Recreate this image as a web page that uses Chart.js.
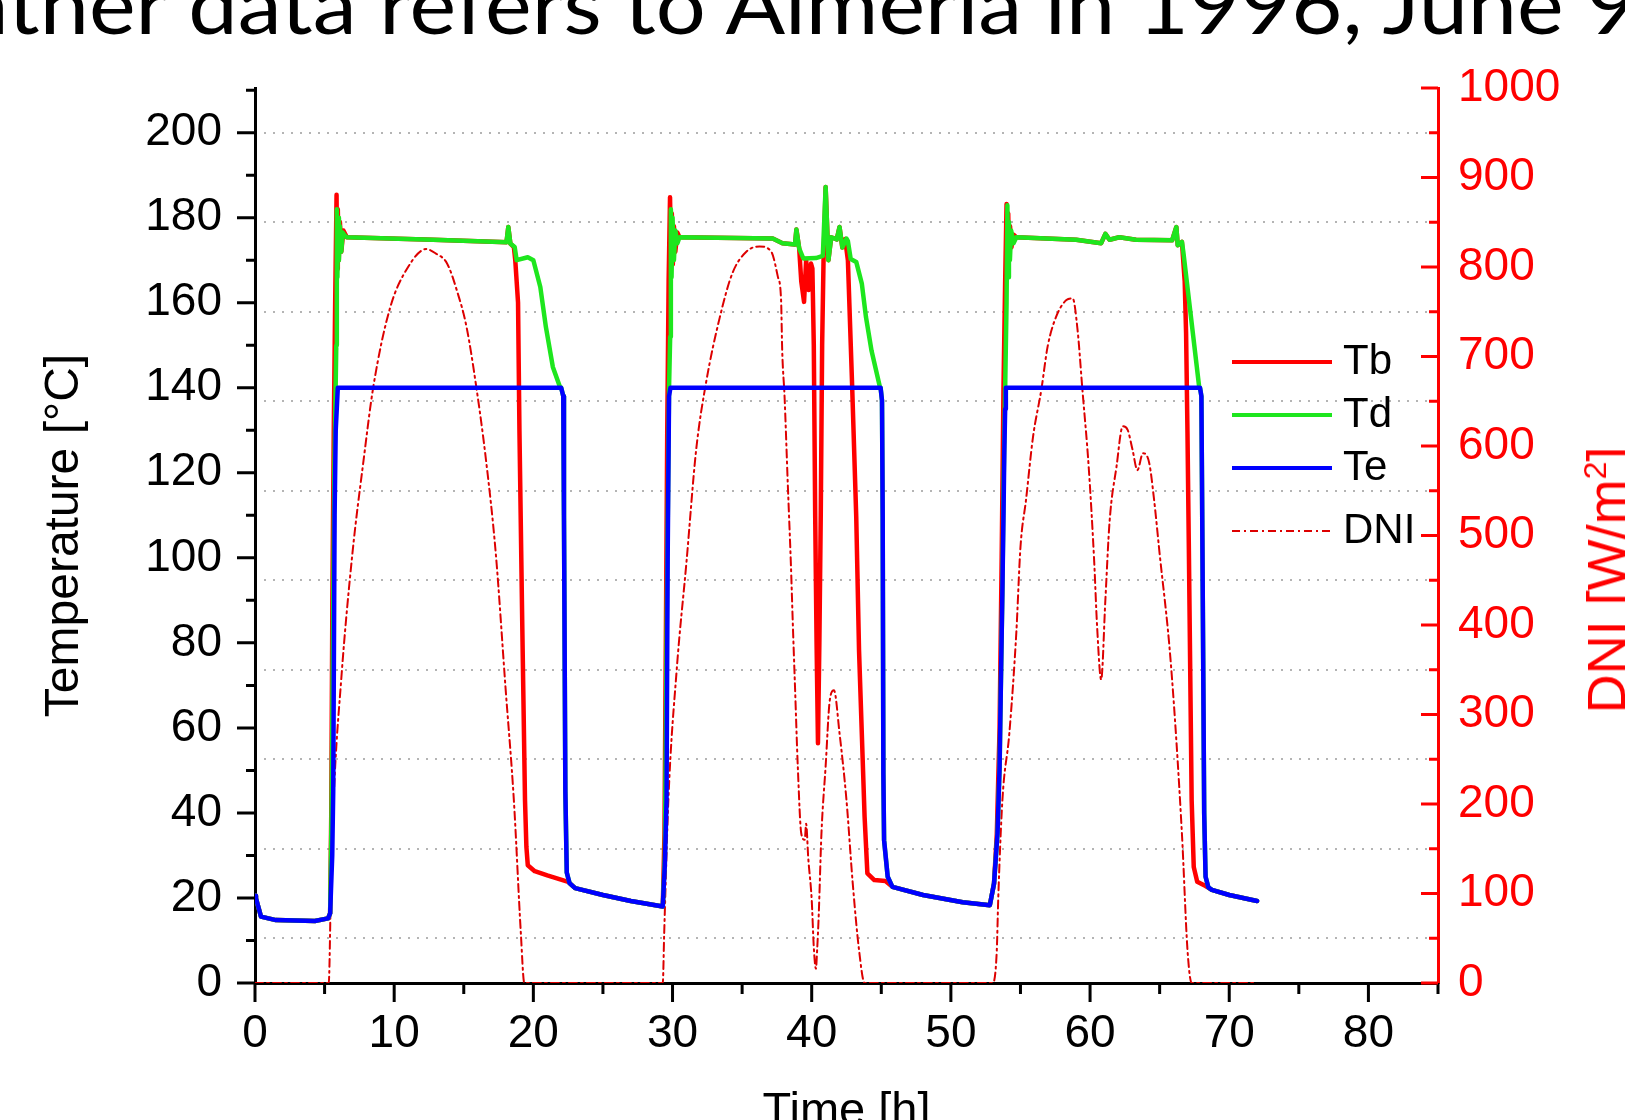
<!DOCTYPE html>
<html>
<head>
<meta charset="utf-8">
<script src="https://cdn.jsdelivr.net/npm/chart.js@4.4.1/dist/chart.umd.min.js"></script>
<style>
html, body { margin: 0; padding: 0; background: #fff; }
#wrap { position: relative; width: 1625px; height: 1120px; overflow: hidden; }
#chart { position: absolute; left: 0; top: 0; }
#title { position: absolute; white-space: nowrap; color: #000;
  font-family: Lato, 'DejaVu Sans Condensed', sans-serif; }
#dniTitle { position: absolute; left: 1606px; top: 580px; white-space: nowrap; color: #f00;
  font-family: 'Liberation Sans', Arial, sans-serif; font-size: 54px; line-height: 54px;
  transform: translate(-50%, -50%) rotate(-90deg); }
#dniTitle sup { font-size: 32px; line-height: 0; }
</style>
</head>
<body>
<div id="wrap">
  <canvas id="chart" width="1625" height="1120"></canvas>
  <div id="title"><span id="tpre">Wea</span><span id="tmain">ther data refers to Almeria in 1996, June</span> 9<span id="bl" style="display:inline-block;width:0;height:0;vertical-align:baseline"></span></div>
  <div id="dniTitle">DNI [W/m<sup>2</sup>]</div>
</div>
<script>
// time [h] and values for each series
const teTime = [0, 0.07, 0.43, 1.5, 4.3, 5.25, 5.4, 5.55, 5.62, 5.72, 5.8, 5.95, 22.0, 22.15, 22.2, 22.3, 22.4, 22.6, 23.0, 25.0,
  27.0, 29.3, 29.45, 29.57, 29.65, 29.75, 29.85, 44.95, 45.05, 45.1, 45.15, 45.2, 45.46, 45.8, 48.0, 50.85, 52.8, 53.1, 53.35, 53.5,
  53.6, 53.7, 53.78, 53.84, 53.9, 53.95, 67.9, 68.0, 68.1, 68.2, 68.3, 68.5, 68.75, 70.0, 72.0];
const teTemp = [20.5, 19.9, 15.6, 14.8, 14.6, 15.2, 16.4, 30, 45, 110, 130, 140, 140, 138, 110, 45, 26, 23.5, 22.3, 20.7,
  19.3, 18.0, 28, 43, 100, 138, 140, 140, 137, 110, 49, 33.6, 25, 22.6, 20.7, 19.0, 18.3, 23.4, 35.2, 50.8,
  72, 92, 110, 125, 135, 140, 140, 138, 90, 40, 25, 22.5, 21.9, 20.7, 19.3];

const tbTime = [0, 0.07, 0.43, 1.5, 4.3, 5.25, 5.4, 5.48, 5.56, 5.66, 5.76, 5.86, 5.9, 5.95, 6.02, 6.1, 6.2, 6.35, 6.6, 12.8,
  17.6, 18.07, 18.2, 18.35, 18.6, 18.7, 18.9, 19.0, 19.2, 19.4, 19.5, 19.6, 20.1, 21.0, 22.5, 23.0, 25.0, 27.0, 29.3, 29.42,
  29.52, 29.62, 29.72, 29.82, 29.9, 29.95, 30.02, 30.1, 30.2, 30.35, 30.5, 37.2, 37.9, 38.8, 38.9, 39.1, 39.25, 39.45, 39.6, 39.78,
  39.95, 40.05, 40.15, 40.25, 40.35, 40.45, 40.55, 40.65, 40.75, 40.85, 41.0, 41.2, 41.4, 41.8, 42.0, 42.2, 42.4, 42.6, 42.9, 43.2,
  43.4, 43.8, 44.0, 44.5, 45.3, 45.8, 48.0, 50.85, 52.8, 53.1, 53.3, 53.5, 53.65, 53.78, 53.9, 54.0, 54.07, 54.12, 54.18, 54.25,
  54.35, 54.5, 54.7, 59.0, 60.8, 61.1, 61.4, 62.1, 63.3, 65.9, 66.2, 66.3, 66.6, 66.8, 66.9, 67.0, 67.1, 67.3, 67.45, 67.7,
  68.3, 68.75, 70.0, 72.0];
const tbTemp = [20.5, 19.9, 15.6, 14.8, 14.6, 15.2, 16.4, 40, 90, 130, 160, 185.4, 168, 182, 170, 179, 172, 177, 175.4, 174.8,
  174.3, 174.2, 177.8, 173.9, 173.1, 170, 160, 130, 85, 43, 32, 27.7, 26.3, 25.3, 23.8, 22.3, 20.7, 19.3, 18.0, 35,
  80, 130, 165, 184.8, 170, 181, 169, 178, 172, 176.5, 175.4, 175.1, 174, 173.7, 177.2, 172.8, 165, 160.2, 170, 163,
  169.2, 168, 150, 110, 80, 56.4, 80, 110, 150, 170, 187.2, 170, 175.4, 174.9, 177.8, 173, 175, 170, 141, 109.6,
  78.3, 39.1, 25.8, 24.2, 24.0, 22.6, 20.7, 19.0, 18.3, 23.4, 35, 60, 100, 140, 165, 183.2, 170, 181, 170, 178,
  173, 176, 175.4, 174.8, 174.0, 176.2, 174.8, 175.4, 174.8, 174.7, 177.8, 173.5, 174.3, 165, 152.8, 129.3, 101.8, 43, 27.3, 23.8,
  22.8, 21.9, 20.7, 19.3];

const tdTime = [0, 0.07, 0.43, 1.5, 4.3, 5.25, 5.4, 5.5, 5.7, 5.84, 5.88, 5.92, 5.97, 6.03, 6.1, 6.2, 6.3, 6.45, 6.6, 12.8,
  17.6, 18.07, 18.2, 18.35, 18.66, 18.8, 19.6, 20.0, 20.5, 20.9, 21.4, 21.9, 22.0, 22.15, 22.2, 22.3, 22.4, 22.6, 23.0, 25.0,
  27.0, 29.3, 29.45, 29.6, 29.75, 29.83, 29.88, 29.93, 30.0, 30.1, 30.2, 30.35, 30.5, 37.2, 37.9, 38.8, 38.9, 39.1, 39.4, 40.3,
  40.8, 41.0, 41.2, 41.4, 41.8, 42.0, 42.2, 42.5, 42.6, 42.8, 43.2, 43.6, 43.9, 44.3, 44.9, 44.95, 45.05, 45.1, 45.15, 45.2,
  45.46, 45.8, 48.0, 50.85, 52.8, 53.1, 53.35, 53.5, 53.6, 53.7, 53.8, 53.9, 54.0, 54.06, 54.11, 54.17, 54.24, 54.33, 54.5, 54.7,
  59.0, 60.8, 61.1, 61.4, 62.1, 63.3, 65.9, 66.2, 66.3, 66.6, 66.7, 67.84, 67.9, 68.0, 68.1, 68.2, 68.3, 68.5, 68.75, 70.0,
  72.0];
const tdTemp = [20.5, 19.9, 15.6, 14.8, 14.6, 15.2, 16.4, 40, 120, 150, 182, 166, 180, 170, 178, 172, 176.5, 175.8, 175.4, 174.8,
  174.3, 174.2, 177.8, 173.9, 173.1, 170, 170.7, 170, 163.7, 154.3, 144.9, 140.3, 140, 138, 110, 45, 26, 23.5, 22.3, 20.7,
  19.3, 18.0, 30, 90, 140, 152, 182, 166, 180, 170, 177, 174, 175.4, 175.1, 174, 173.7, 177.2, 172.8, 170.4, 170.5,
  171, 187.2, 170, 175.4, 174.9, 177.8, 173, 175.1, 174.5, 170.3, 169.6, 164.5, 156.6, 148.7, 140.2, 140, 137, 110, 49, 33.6,
  25, 22.6, 20.7, 19.0, 18.3, 23.4, 35.2, 50.8, 72, 92, 120, 140, 160, 182.9, 166, 179, 170, 177, 174, 175.4,
  174.8, 174.0, 176.2, 174.8, 175.4, 174.8, 174.7, 177.8, 173.5, 174.3, 172, 140.2, 140, 138, 90, 40, 25, 22.5, 21.9, 20.7,
  19.3];

const dniTime = [0, 5.3, 5.45, 5.65, 6.2, 7.0, 7.8, 8.5, 9.7, 11.0, 12.3, 13.0, 13.8, 14.5, 15.2, 15.9, 16.6, 17.3, 18.0, 18.6,
  19.1, 19.35, 29.3, 29.4, 29.7, 30.3, 31.0, 31.7, 32.4, 33.4, 34.3, 35.3, 36.25, 37.1, 37.57, 37.8, 37.88, 38.05, 38.28, 38.5,
  38.65, 38.8, 39.0, 39.25, 39.5, 39.6, 39.75, 40.0, 40.15, 40.3, 40.4, 40.5, 40.7, 41.0, 41.3, 41.6, 42.0, 42.5, 42.95, 43.4,
  43.8, 53.0, 53.3, 53.4, 53.7, 54.2, 54.7, 55.0, 55.4, 55.9, 56.5, 56.95, 57.55, 58.3, 58.75, 59.1, 59.45, 59.9, 60.3, 60.5,
  60.8, 61.1, 61.4, 61.9, 62.35, 62.7, 63.05, 63.4, 63.8, 64.25, 64.6, 64.97, 65.8, 66.6, 67.0, 67.3, 72.0];
const dniVal = [0, 0, 100, 204, 340, 480, 584, 666, 754, 800, 820, 815, 804, 774, 733, 666, 584, 480, 330, 204,
  56, 0, 0, 55, 204, 350, 470, 596, 670, 744, 793, 817, 823, 817, 789, 763, 707, 655, 558, 470,
  398, 331, 242, 167, 160, 178, 140, 93, 40, 16, 40, 74, 167, 242, 316, 327, 279, 204, 111, 37,
  0, 0, 37, 93, 204, 279, 391, 487, 540, 610, 663, 711, 744, 763, 765, 730, 663, 577, 470, 400,
  339, 428, 515, 577, 622, 618, 596, 573, 592, 581, 540, 484, 358, 167, 37, 0, 0];

const xTicks = { min: 0, max: 85, step: 10 };
const tempTicks = { min: 0, max: 210.5, step: 20 };
const dniTicks = { min: 0, max: 1000, step: 50 };

// size the slide caption so it spans the same width as in the picture,
// then stretch it vertically to the tall, narrow look of the original
const title = document.getElementById('title');
title.style.fontSize = '100px';
const k = 1556 / document.getElementById('tmain').getBoundingClientRect().width;
const tSize = 100 * k;
title.style.fontSize = tSize + 'px';
title.style.lineHeight = tSize + 'px';
title.style.left = (8 - document.getElementById('tpre').getBoundingClientRect().width) + 'px';
title.style.top = '0px';
const blOffset = document.getElementById('bl').getBoundingClientRect().top - title.getBoundingClientRect().top;
title.style.top = (34 - blOffset) + 'px';
const probe = document.createElement('canvas').getContext('2d');
probe.font = tSize + 'px Lato, "DejaVu Sans Condensed", sans-serif';
const xh = probe.measureText('x').actualBoundingBoxAscent || tSize * 0.5;
title.style.transformOrigin = '0px ' + blOffset + 'px';
title.style.transform = 'scaleY(' + (41 / xh) + ')';

function pts(xs, ys) {
  return xs.map((x, i) => ({ x: x, y: ys[i] }));
}

Chart.defaults.font.family = "'Liberation Sans', Arial, sans-serif";
const labelFont = { size: 46 };

// minor/major tick marks, Origin style (right axis ticks point inward)
const tickMarks = {
  id: 'tickMarks',
  afterDraw(chart) {
    const { ctx, chartArea: a, scales } = chart;
    ctx.save();
    ctx.lineWidth = 3;
    ctx.strokeStyle = '#000';
    ctx.beginPath();
    for (let v = 0; v <= 210; v += 10) {
      const y = scales.y.getPixelForValue(v);
      const len = v % 20 ? 9 : 18;
      ctx.moveTo(a.left - len, y); ctx.lineTo(a.left, y);
    }
    for (let v = 0; v <= 85; v += 5) {
      const x = scales.x.getPixelForValue(v);
      const len = v % 10 ? 11 : 19;
      ctx.moveTo(x, a.bottom); ctx.lineTo(x, a.bottom + len);
    }
    ctx.stroke();
    ctx.strokeStyle = '#f00';
    ctx.beginPath();
    for (let v = 0; v <= 1000; v += 50) {
      const y = scales.y1.getPixelForValue(v);
      const len = v % 100 ? 9 : 17;
      ctx.moveTo(a.right - len, y); ctx.lineTo(a.right, y);
    }
    ctx.stroke();
    ctx.restore();
  }
};

// legend drawn inside the plot, right side
const boxLegend = {
  id: 'boxLegend',
  afterDraw(chart) {
    const ctx = chart.ctx;
    const rows = [362, 415, 468, 531];
    chart.data.datasets.forEach((ds, i) => {
      const y = rows[i];
      ctx.save();
      ctx.strokeStyle = ds.borderColor;
      ctx.lineWidth = Math.min(ds.borderWidth, 4);
      ctx.setLineDash(ds.borderDash || []);
      ctx.beginPath(); ctx.moveTo(1232, y); ctx.lineTo(1332, y); ctx.stroke();
      ctx.setLineDash([]);
      ctx.fillStyle = '#000';
      ctx.font = "42px 'Liberation Sans', Arial, sans-serif";
      ctx.textBaseline = 'middle';
      ctx.fillText(ds.label, 1343, y);
      ctx.restore();
    });
  }
};

const config = {
  type: 'line',
  data: {
    datasets: [
      { label: 'Tb', data: pts(tbTime, tbTemp), yAxisID: 'y', borderColor: '#ff0000', borderWidth: 4.5, order: 2 },
      { label: 'Td', data: pts(tdTime, tdTemp), yAxisID: 'y', borderColor: '#1ee61e', borderWidth: 4.5, order: 1 },
      { label: 'Te', data: pts(teTime, teTemp), yAxisID: 'y', borderColor: '#0000ff', borderWidth: 4.5, order: 0 },
      { label: 'DNI', data: pts(dniTime, dniVal), yAxisID: 'y1', borderColor: '#dd0000', borderWidth: 2,
        borderDash: [8, 4, 2, 4], cubicInterpolationMode: 'monotone', order: 3 }
    ]
  },
  options: {
    responsive: false,
    animation: false,
    devicePixelRatio: 1,
    layout: { padding: { top: 88, left: 0, right: 0, bottom: 0 } },
    elements: {
      point: { radius: 0 },
      line: { tension: 0, borderJoinStyle: 'round', borderCapStyle: 'round', fill: false }
    },
    plugins: { legend: { display: false }, tooltip: { enabled: false } },
    scales: {
      x: {
        type: 'linear', min: xTicks.min, max: xTicks.max,
        afterFit: s => { s.height = 137; },
        ticks: { stepSize: xTicks.step, includeBounds: false, autoSkip: false, maxRotation: 0,
          font: labelFont, color: '#000', padding: 6 },
        grid: { drawOnChartArea: false, drawTicks: true, tickLength: 18, tickColor: 'rgba(0,0,0,0)' },
        border: { display: true, color: '#000', width: 3 },
        title: { display: true, text: 'Time [h]', color: '#000', font: { size: 47, lineHeight: 0.34 }, padding: 0 }
      },
      y: {
        position: 'left', min: tempTicks.min, max: tempTicks.max,
        afterFit: s => { s.width = 255; },
        ticks: { stepSize: tempTicks.step, includeBounds: false, autoSkip: false, font: labelFont, color: '#000', padding: 15 },
        grid: { drawOnChartArea: false, drawTicks: true, tickLength: 18, tickColor: 'rgba(0,0,0,0)' },
        border: { display: true, color: '#000', width: 3 },
        title: { display: true, text: 'Temperature [°C]', color: '#000', font: { size: 48 }, padding: { top: 36, bottom: 0 } }
      },
      y1: {
        position: 'right', min: dniTicks.min, max: dniTicks.max,
        afterFit: s => { s.width = 187; },
        ticks: { stepSize: dniTicks.step, autoSkip: false, font: labelFont, color: '#ff0000', padding: 20,
          callback: v => (v % 100 === 0 ? v : '') },
        grid: {
          drawOnChartArea: true, drawTicks: false, lineWidth: 2,
          color: c => (c.tick && c.tick.value % 100 === 50) ? '#b4b4b4' : 'rgba(0,0,0,0)'
        },
        border: { display: true, color: '#ff0000', width: 3, dash: [2, 7] }
      }
    }
  },
  plugins: [tickMarks, boxLegend]
};

const myChart = new Chart(document.getElementById('chart'), config);
</script>
</body>
</html>
